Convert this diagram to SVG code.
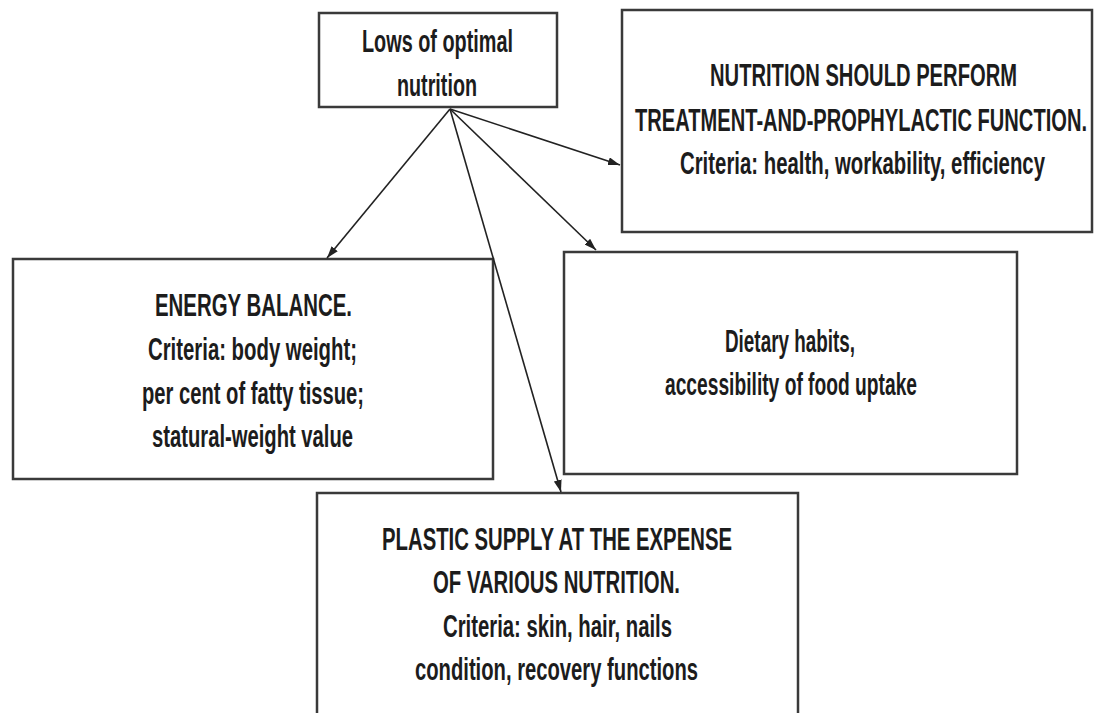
<svg xmlns="http://www.w3.org/2000/svg" width="1095" height="713" viewBox="0 0 1095 713">
<defs>
<style>
.box{fill:#fff;stroke:#3a3a3a;stroke-width:2.5}
.t{font-family:"Liberation Sans Narrow","Liberation Sans",Arial,sans-serif;font-size:32px;font-weight:bold;fill:#1c1c1c}
.c{stroke:#222;stroke-width:1.6;fill:none;marker-end:url(#ah)}
</style>
<marker id="ah" markerUnits="userSpaceOnUse" markerWidth="13" markerHeight="8" refX="12" refY="4" orient="auto">
<path d="M0,0 L12,4 L0,8 z" fill="#222"/>
</marker>
</defs>
<rect width="1095" height="713" fill="#fff"/>
<g id="n_top">
<rect class="box" x="319" y="13" width="238" height="94"/>
<text class="t" x="362" y="52" textLength="151" lengthAdjust="spacingAndGlyphs">Lows of optimal</text>
<text class="t" x="397" y="96" textLength="80" lengthAdjust="spacingAndGlyphs">nutrition</text>
</g>
<g id="n_treatment">
<rect class="box" x="622" y="10" width="470" height="222"/>
<text class="t" x="710" y="86" textLength="307" lengthAdjust="spacingAndGlyphs">NUTRITION SHOULD PERFORM</text>
<text class="t" x="635" y="131" textLength="452" lengthAdjust="spacingAndGlyphs">TREATMENT-AND-PROPHYLACTIC FUNCTION.</text>
<text class="t" x="680" y="174" textLength="365" lengthAdjust="spacingAndGlyphs">Criteria: health, workability, efficiency</text>
</g>
<g id="n_energy">
<rect class="box" x="13" y="259" width="480" height="220"/>
<text class="t" x="155" y="316" textLength="197" lengthAdjust="spacingAndGlyphs">ENERGY BALANCE.</text>
<text class="t" x="148" y="360" textLength="209" lengthAdjust="spacingAndGlyphs">Criteria: body weight;</text>
<text class="t" x="142" y="404" textLength="222" lengthAdjust="spacingAndGlyphs">per cent of fatty tissue;</text>
<text class="t" x="152" y="447" textLength="201" lengthAdjust="spacingAndGlyphs">statural-weight value</text>
</g>
<g id="n_dietary">
<rect class="box" x="564" y="252" width="453" height="222"/>
<text class="t" x="725" y="352" textLength="130" lengthAdjust="spacingAndGlyphs">Dietary habits,</text>
<text class="t" x="665" y="395" textLength="252" lengthAdjust="spacingAndGlyphs">accessibility of food uptake</text>
</g>
<g id="n_plastic">
<rect class="box" x="317" y="493" width="481" height="230"/>
<text class="t" x="382" y="550" textLength="350" lengthAdjust="spacingAndGlyphs">PLASTIC SUPPLY AT THE EXPENSE</text>
<text class="t" x="433" y="593" textLength="247" lengthAdjust="spacingAndGlyphs">OF VARIOUS NUTRITION.</text>
<text class="t" x="443" y="637" textLength="229" lengthAdjust="spacingAndGlyphs">Criteria: skin, hair, nails</text>
<text class="t" x="415" y="680" textLength="283" lengthAdjust="spacingAndGlyphs">condition, recovery functions</text>
</g>
<g id="connectors">
<line class="c" x1="450" y1="109" x2="620" y2="165"/>
<line class="c" x1="450" y1="109" x2="327" y2="258"/>
<line class="c" x1="450" y1="109" x2="596" y2="250"/>
<line class="c" x1="450" y1="109" x2="561" y2="492"/>
</g>
</svg>
